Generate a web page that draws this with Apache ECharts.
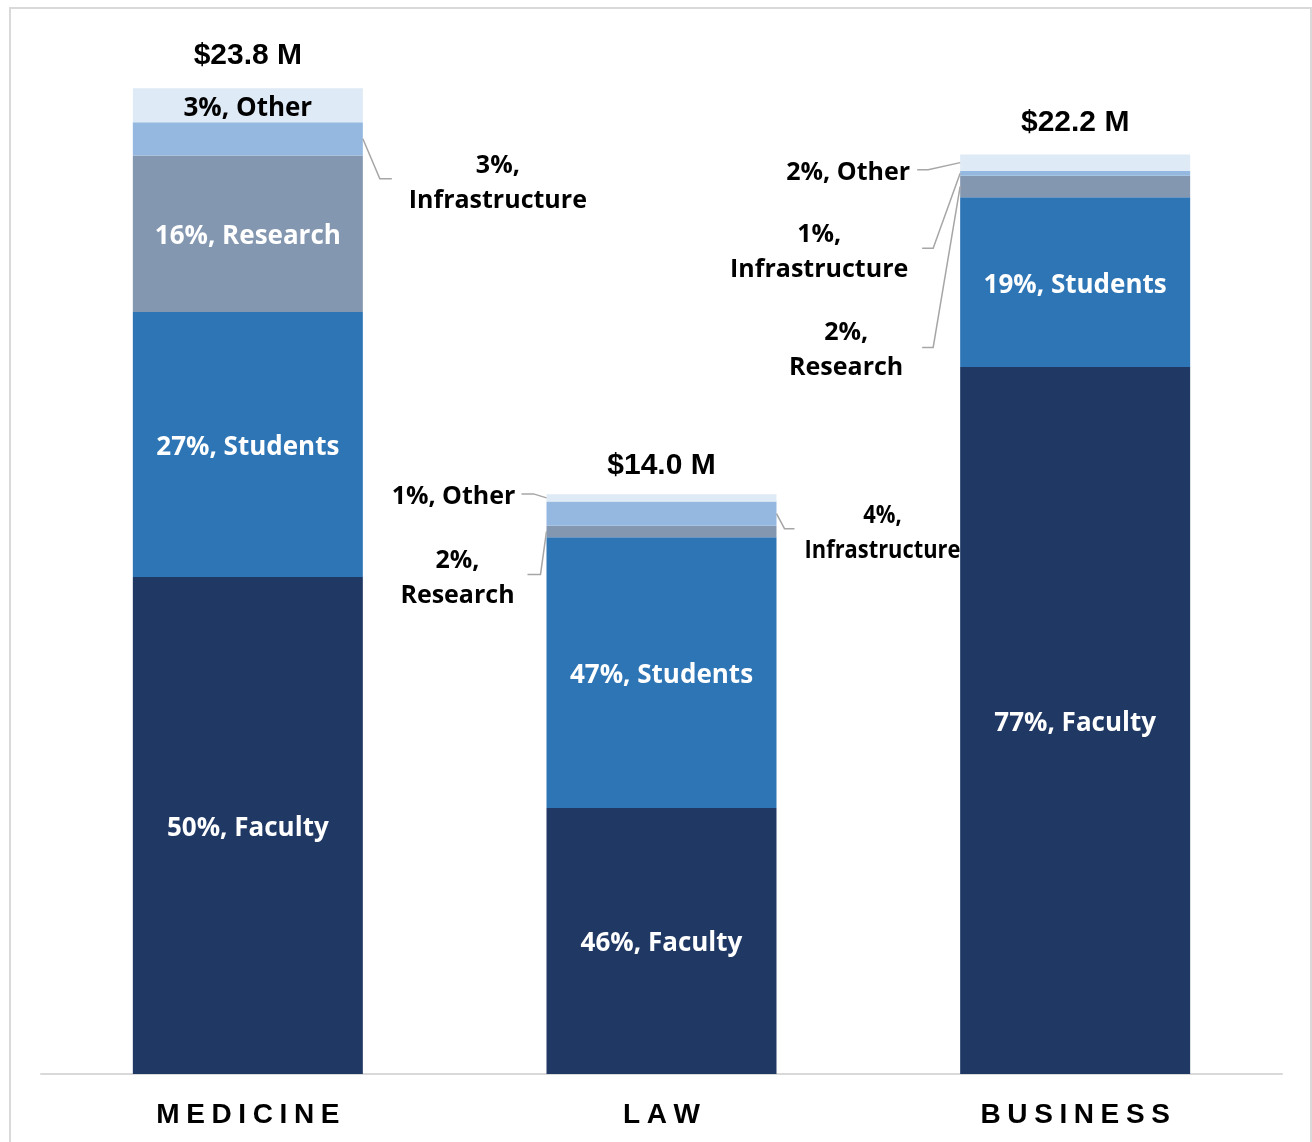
<!DOCTYPE html>
<html><head><meta charset="utf-8">
<script src="https://cdn.jsdelivr.net/npm/echarts@6/dist/echarts.min.js"></script>
<style>html,body{margin:0;padding:0;background:#fff}#chart{width:1312px;height:1142px}</style>
</head><body><div id="chart"></div>
<script>
// ---- data (values in $ millions) ----
const categories = ['MEDICINE', 'LAW', 'BUSINESS'];
const segmentNames = ['Faculty', 'Students', 'Research', 'Infrastructure', 'Other'];
const faculty = [12.0, 6.42, 17.07];
const students = [6.4, 6.54, 4.1];
const research = [3.78, 0.28, 0.52];
const infrastructure = [0.8, 0.58, 0.12];
const other = [0.82, 0.18, 0.39];
const facultyPct = [50, 46, 77];
const studentsPct = [27, 47, 19];
const researchPct = [16, 2, 2];
const infrastructurePct = [3, 4, 1];
const otherPct = [3, 1, 2];
const totals = [23.8, 14.0, 22.2];

// ---- styling ----
const values = [faculty, students, research, infrastructure, other];
const pcts = [facultyPct, studentsPct, researchPct, infrastructurePct, otherPct];
const colors = ['#203864', '#2E75B6', '#8497B0', '#95B8E0', '#DEEAF6'];
const insideTextColors = ['#ffffff', '#ffffff', '#ffffff', '#000000', '#000000'];
const BAR_FRAC = 0.556;
const LABEL_FONT = '"Open Sans", "Noto Sans", sans-serif';

// callout placement (pixel offsets from the segment's edge midpoint); side 1 = right, -1 = left
const callouts = [
  { seg: 3, cat: 0, side: 1,  elbow: [17, 40],  end: [29, 40],  text: [135, 45],  twoLine: true,  squeeze: 1 },
  { seg: 4, cat: 1, side: -1, elbow: [13, -4],  end: [25, -4],  text: [93, -1],   twoLine: false, squeeze: 1 },
  { seg: 2, cat: 1, side: -1, elbow: [6, 43],   end: [19, 43],  text: [89, 47],   twoLine: true,  squeeze: 1 },
  { seg: 3, cat: 1, side: 1,  elbow: [8, 15],   end: [18, 15],  text: [106, 20],  twoLine: true,  squeeze: 0.875 },
  { seg: 4, cat: 2, side: -1, elbow: [32, 7],   end: [43, 7],   text: [112, 10],  twoLine: false, squeeze: 1 },
  { seg: 3, cat: 2, side: -1, elbow: [27, 75],  end: [38, 75],  text: [141, 79],  twoLine: true,  squeeze: 1 },
  { seg: 2, cat: 2, side: -1, elbow: [27, 161], end: [38, 161], text: [114, 164], twoLine: true,  squeeze: 1 }
];
const titleLift = [33, 28, 32];

function isCallout(s, c) {
  return callouts.some(co => co.seg === s && co.cat === c);
}

const barSeries = values.map((vals, s) => ({
  name: segmentNames[s],
  type: 'bar',
  stack: 'total',
  barWidth: (BAR_FRAC * 100) + '%',
  silent: true,
  itemStyle: { color: colors[s] },
  label: {
    show: true,
    position: 'inside',
    offset: [0, 3],
    color: insideTextColors[s],
    fontFamily: LABEL_FONT,
    fontWeight: 'bold',
    fontSize: 26,
    formatter: p => pcts[s][p.dataIndex] + '%, ' + segmentNames[s]
  },
  data: vals.map((v, c) => ({ value: v, label: { show: !isCallout(s, c) } }))
}));

const calloutSeries = {
  type: 'custom',
  coordinateSystem: 'cartesian2d',
  silent: true,
  z: 10,
  data: callouts.map(co => [co.cat, co.seg]),
  renderItem: (params, api) => {
    const co = callouts[params.dataIndex];
    let base = 0;
    for (let i = 0; i < co.seg; i++) base += values[i][co.cat];
    const top = base + values[co.seg][co.cat];
    const p0 = api.coord([co.cat, base]);
    const p1 = api.coord([co.cat, top]);
    const half = api.size([1, 0])[0] * BAR_FRAC / 2;
    const s = co.side;
    const ex = p0[0] + s * half;
    const my = (p0[1] + p1[1]) / 2;
    const txt = pcts[co.seg][co.cat] + '%,' + (co.twoLine ? '\n' : ' ') + segmentNames[co.seg];
    return {
      type: 'group',
      children: [
        {
          type: 'polyline',
          shape: { points: [[ex, my], [ex + s * co.elbow[0], my + co.elbow[1]], [ex + s * co.end[0], my + co.end[1]]] },
          style: { stroke: '#A6A6A6', lineWidth: 1.5, fill: null }
        },
        {
          type: 'text',
          x: ex + s * co.text[0],
          y: my + co.text[1],
          scaleX: co.squeeze,
          style: {
            text: txt, align: 'center', verticalAlign: 'middle',
            fontFamily: LABEL_FONT, fontWeight: 'bold', fontSize: 25, lineHeight: 35, fill: '#000'
          }
        }
      ]
    };
  }
};

const totalSeries = {
  type: 'custom',
  coordinateSystem: 'cartesian2d',
  silent: true,
  z: 10,
  data: totals.map((t, i) => [i, t]),
  renderItem: (params, api) => {
    const p = api.coord([api.value(0), api.value(1)]);
    return {
      type: 'text',
      x: p[0],
      y: p[1] - titleLift[params.dataIndex],
      style: {
        text: '$' + api.value(1).toFixed(1) + ' M', align: 'center', verticalAlign: 'middle',
        fontFamily: '"Liberation Sans", Arial, sans-serif', fontWeight: 'bold', fontSize: 30, fill: '#000'
      }
    };
  }
};

const chart = echarts.init(document.getElementById('chart'), null, { renderer: 'canvas' });
chart.setOption({
  animation: false,
  backgroundColor: '#ffffff',
  graphic: [{
    type: 'rect', silent: true, z: -10,
    shape: { x: 10, y: 8, width: 1301, height: 1200 },
    style: { fill: null, stroke: '#D9D9D9', lineWidth: 2 }
  }],
  grid: { left: 41, right: 30, top: 80, bottom: 68, containLabel: false, outerBoundsMode: 'none' },
  xAxis: {
    type: 'category',
    data: categories,
    axisLine: { show: true, lineStyle: { color: '#D9D9D9', width: 2 } },
    axisTick: { show: false },
    splitLine: { show: false },
    axisLabel: {
      margin: 27,
      formatter: v => v.split('').map(ch => '{l|' + ch + '}').join(''),
      rich: {
        l: {
          fontFamily: '"Liberation Sans", Arial, sans-serif', fontWeight: 'bold', fontSize: 28,
          color: '#000', padding: [0, 3.3, 0, 3.3]
        }
      }
    }
  },
  yAxis: { type: 'value', min: 0, max: 24, show: false, splitLine: { show: false } },
  series: barSeries.concat([calloutSeries, totalSeries])
});
</script>
</body></html>
